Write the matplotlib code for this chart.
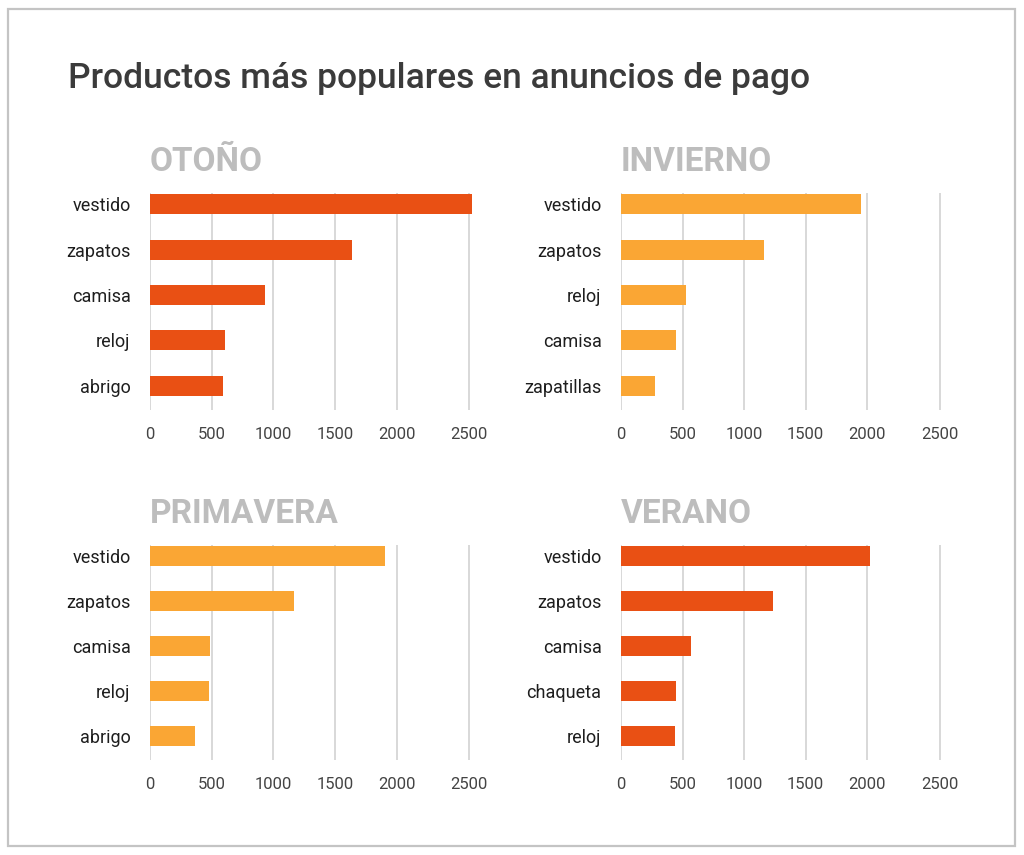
import numpy as np
import matplotlib.pyplot as plt
from matplotlib.patches import Rectangle

plt.rcParams['font.family'] = ['Roboto', 'DejaVu Sans']

title = 'Productos más populares en anuncios de pago'

otono_labels = ['vestido', 'zapatos', 'camisa', 'reloj', 'abrigo']
otono_values = [2515, 1640, 930, 605, 590]

invierno_labels = ['vestido', 'zapatos', 'reloj', 'camisa', 'zapatillas']
invierno_values = [1950, 1165, 525, 445, 280]

primavera_labels = ['vestido', 'zapatos', 'camisa', 'reloj', 'abrigo']
primavera_values = [1905, 1170, 485, 475, 365]

verano_labels = ['vestido', 'zapatos', 'camisa', 'chaqueta', 'reloj']
verano_values = [2020, 1235, 570, 445, 440]

xticks = [0, 500, 1000, 1500, 2000, 2500]

dark_orange = '#E95014'
light_orange = '#FAA634'

# the source axis stretches the last step (2000 -> 2500)
K = 1.18


def fwd(x):
    x = np.asarray(x, dtype=float)
    return np.where(x <= 2000, x, 2000 + (x - 2000) * K)


def inv(y):
    y = np.asarray(y, dtype=float)
    return np.where(y <= 2000, y, 2000 + (y - 2000) / K)


fig = plt.figure(figsize=(10.24, 8.55), dpi=100)
fig.patches.append(Rectangle((8 / 1024, 9 / 855), 1007 / 1024, 837 / 855,
                             transform=fig.transFigure, fill=False,
                             edgecolor='#c4c4c4', linewidth=1.6))

fig.text(68 / 1024, 1 - 88 / 855, title, fontsize=25.5, fontweight='medium',
         color='#3b3b3b', va='baseline', ha='left')

panels = [
    ('OTOÑO', otono_labels, otono_values, dark_orange, [0.1465, 0.5205, 0.3147, 0.2535]),
    ('INVIERNO', invierno_labels, invierno_values, light_orange, [0.6064, 0.5205, 0.3144, 0.2535]),
    ('PRIMAVERA', primavera_labels, primavera_values, light_orange, [0.1465, 0.1111, 0.3147, 0.2515]),
    ('VERANO', verano_labels, verano_values, dark_orange, [0.6064, 0.1111, 0.3144, 0.2515]),
]

for name, labels, values, color, rect in panels:
    ax = fig.add_axes(rect)
    ax.set_xscale('function', functions=(fwd, inv))
    pos = list(range(len(labels)))
    ax.barh(pos, values, height=0.44, color=color, zorder=3)
    ax.set_xlim(0, 2520)
    ax.set_ylim(4.53, -0.24)
    ax.set_yticks(pos)
    ax.set_yticklabels(labels)
    ax.set_xticks(xticks)
    ax.set_xticklabels([str(t) for t in xticks])
    ax.xaxis.grid(True, color='#d6d6d6', linewidth=1.3, zorder=0)
    ax.set_axisbelow(True)
    for s in ax.spines.values():
        s.set_visible(False)
    ax.tick_params(axis='y', length=0, pad=14, labelsize=13, labelcolor='#1e1e1e')
    ax.tick_params(axis='x', length=0, pad=12, labelsize=12, labelcolor='#444444')
    ax.text(0, 1.07, name, transform=ax.transAxes, fontsize=24,
            fontweight='bold', color='#bdbdbd', ha='left', va='bottom')

fig.savefig('out.png', dpi=100, facecolor='white')
